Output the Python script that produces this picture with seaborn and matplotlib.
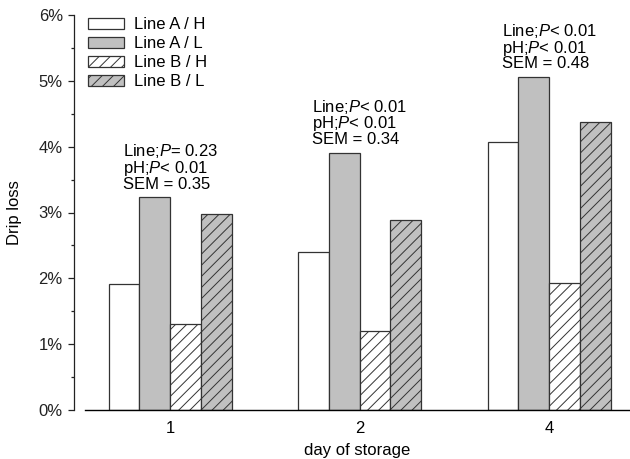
import pandas as pd
import matplotlib
matplotlib.use('Agg')
import matplotlib.pyplot as plt
from matplotlib.patches import Patch
from matplotlib.ticker import MultipleLocator, FuncFormatter
import seaborn as sns

# Values (drip loss, %)
days = ['1', '2', '4']
groups = ['Line A / H', 'Line A / L', 'Line B / H', 'Line B / L']
line_a_h = [1.92, 2.40, 4.07]
line_a_l = [3.23, 3.91, 5.06]
line_b_h = [1.31, 1.20, 1.93]
line_b_l = [2.98, 2.89, 4.37]
stats_text = [
    ['Line;$P$= 0.23', 'pH;$P$< 0.01', 'SEM = 0.35'],
    ['Line;$P$< 0.01', 'pH;$P$< 0.01', 'SEM = 0.34'],
    ['Line;$P$< 0.01', 'pH;$P$< 0.01', 'SEM = 0.48'],
]

fills = {'Line A / H': 'white', 'Line A / L': '#c0c0c0',
         'Line B / H': 'white', 'Line B / L': '#c0c0c0'}
hatches = {'Line A / H': '', 'Line A / L': '',
           'Line B / H': '///', 'Line B / L': '///'}
edge = '#333333'

# long-form table for seaborn
rows = []
for g, vals in zip(groups, [line_a_h, line_a_l, line_b_h, line_b_l]):
    for d, v in zip(days, vals):
        rows.append({'day': d, 'group': g, 'loss': v})
df = pd.DataFrame(rows)

sns.set_style('ticks')
plt.rcParams['font.family'] = ['Liberation Sans', 'DejaVu Sans']
plt.rcParams['text.color'] = 'black'
plt.rcParams['axes.labelcolor'] = 'black'
plt.rcParams['mathtext.fontset'] = 'custom'
plt.rcParams['mathtext.it'] = 'Liberation Sans:italic'
plt.rcParams['mathtext.rm'] = 'Liberation Sans'
plt.rcParams['hatch.color'] = edge
plt.rcParams['hatch.linewidth'] = 0.7

fs = 12
fig = plt.figure(figsize=(6.3, 4.59), dpi=100)
ax = fig.add_axes([85 / 630, 1 - 410 / 459, 1 - 85 / 630 - 0.002, (410 - 15) / 459])

sns.barplot(data=df, x='day', y='loss', hue='group', order=days, hue_order=groups,
            palette=fills, saturation=1, width=0.65, gap=0,
            edgecolor=edge, linewidth=0.9, legend=False, ax=ax)

# hatching per hue level
for cont, g in zip(ax.containers, groups):
    for bar in cont:
        bar.set_hatch(hatches[g])
        bar.set_edgecolor(edge)

# stats annotations above Line A / L bars
for i, lines in enumerate(stats_text):
    ax.annotate('\n'.join(lines), xy=(i - 0.25, line_a_l[i]), xytext=(0, 4),
                textcoords='offset points', ha='left', va='bottom',
                fontsize=12, linespacing=0.9, color='black')

ax.set_xlim(-0.45, 2.42)
ax.set_ylim(0, 6)
ax.yaxis.set_major_locator(MultipleLocator(1))
ax.yaxis.set_minor_locator(MultipleLocator(0.5))
ax.yaxis.set_major_formatter(FuncFormatter(lambda v, p: f'{v:.0f}%'))
ax.tick_params(axis='y', which='major', length=4.5, width=0.9, colors='#222222', labelsize=fs, pad=3.5)
ax.tick_params(axis='y', which='minor', length=2.2, width=0.9, colors='#222222')
ax.tick_params(axis='x', length=0, labelsize=fs, pad=8)
for t in ax.get_xticklabels() + ax.get_yticklabels():
    t.set_color('black')

sns.despine(ax=ax)
ax.spines['left'].set_position(('outward', 8))
ax.spines['left'].set_color('#222222')
ax.spines['bottom'].set_color('black')
ax.spines['left'].set_linewidth(0.9)
ax.spines['bottom'].set_linewidth(1.0)

ax.set_xlabel('day of storage', fontsize=fs, labelpad=5)
ax.set_ylabel('Drip loss', fontsize=fs, labelpad=12)

handles = [Patch(facecolor=fills[g], edgecolor=edge, hatch=hatches[g], linewidth=0.9, label=g)
           for g in groups]
fig.legend(handles=handles, loc='upper left', bbox_to_anchor=(88 / 630, 1 - 17 / 459),
           bbox_transform=fig.transFigure, frameon=False, fontsize=fs,
           handlelength=2.15, handleheight=0.65, handletextpad=0.6,
           labelspacing=0.25, borderpad=0, borderaxespad=0)

fig.savefig('out.png', dpi=100)
